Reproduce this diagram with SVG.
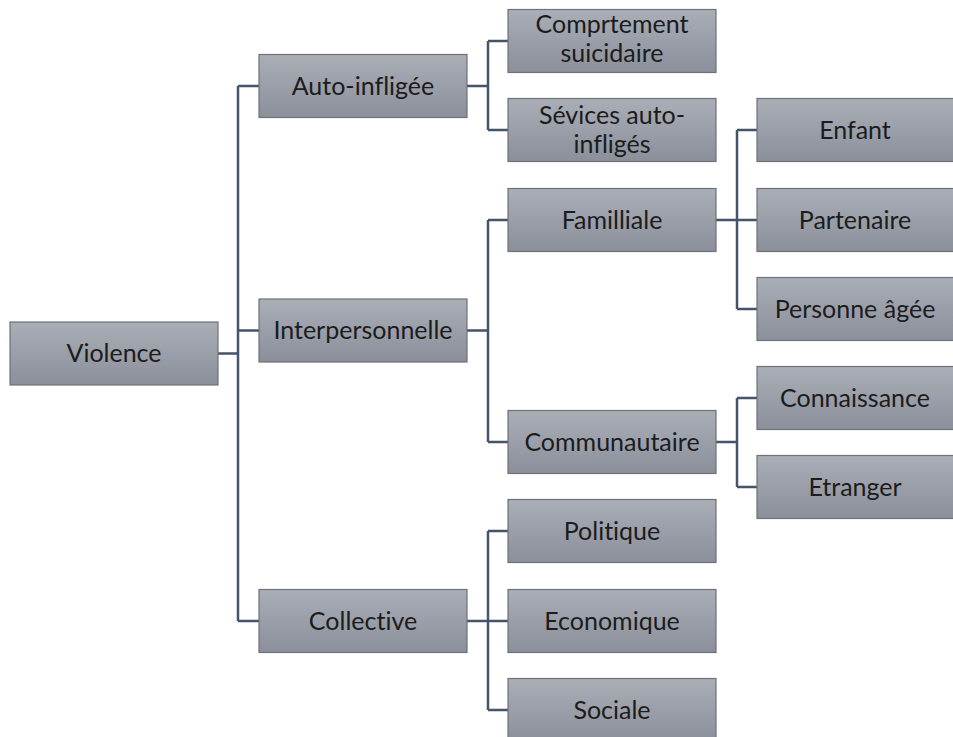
<svg xmlns="http://www.w3.org/2000/svg" width="953" height="737" viewBox="0 0 953 737">
<defs>
<linearGradient id="g" x1="0" y1="0" x2="0" y2="1">
<stop offset="0" stop-color="#aaaeb7"/>
<stop offset="1" stop-color="#8a8f9a"/>
</linearGradient>
</defs>
<style>
.b{fill:url(#g);stroke:#6d7179;stroke-width:1.2}
.t{font-family:Lato,"Liberation Sans",sans-serif;font-size:25px;fill:#1c1c1c;text-anchor:middle;font-variant-ligatures:none;font-feature-settings:"liga" 0}
.c{fill:none;stroke:#44546a;stroke-width:2.5}
</style>
<rect width="953" height="737" fill="#ffffff"/>
<g id="connectors" class="c">
<path d="M218 353.5H238M238 86V621M238 86H259M238 330.5H259M238 621H259"/>
<path d="M467 86H488M488 41V130M488 41H508M488 130H508"/>
<path d="M467 330.5H488M488 220V442M488 220H508M488 442H508"/>
<path d="M467 621H488M488 531V710M488 531H508M488 621H508M488 710H508"/>
<path d="M716 220H737M737 130V309M737 130H757M737 220H757M737 309H757"/>
<path d="M716 442H737M737 398V487M737 398H757M737 487H757"/>
</g>
<g id="n-violence"><rect class="b" x="10" y="322" width="208" height="63"/><text class="t" x="114" y="362">Violence</text></g>
<g id="n-auto"><rect class="b" x="259" y="54.5" width="208" height="63"/><text class="t" x="363" y="94.5">Auto-infligée</text></g>
<g id="n-inter"><rect class="b" x="259" y="299" width="208" height="63"/><text class="t" x="363" y="339">Interpersonnelle</text></g>
<g id="n-coll"><rect class="b" x="259" y="589.5" width="208" height="63"/><text class="t" x="363" y="629.5">Collective</text></g>
<g id="n-compr"><rect class="b" x="508" y="9.5" width="208" height="63"/><text class="t" x="612" y="33">Comprtement</text><text class="t" x="612" y="62">suicidaire</text></g>
<g id="n-sevices"><rect class="b" x="508" y="98.5" width="208" height="63"/><text class="t" x="612" y="124">Sévices auto-</text><text class="t" x="612" y="153">infligés</text></g>
<g id="n-fam"><rect class="b" x="508" y="188.5" width="208" height="63"/><text class="t" x="612" y="228.5">Familliale</text></g>
<g id="n-comm"><rect class="b" x="508" y="410.5" width="208" height="63"/><text class="t" x="612" y="450.5">Communautaire</text></g>
<g id="n-pol"><rect class="b" x="508" y="499.5" width="208" height="63"/><text class="t" x="612" y="539.5">Politique</text></g>
<g id="n-eco"><rect class="b" x="508" y="589.5" width="208" height="63"/><text class="t" x="612" y="629.5">Economique</text></g>
<g id="n-soc"><rect class="b" x="508" y="678.5" width="208" height="63"/><text class="t" x="612" y="718.5">Sociale</text></g>
<g id="n-enfant"><rect class="b" x="757" y="98.5" width="208" height="63"/><text class="t" x="855" y="138.5">Enfant</text></g>
<g id="n-part"><rect class="b" x="757" y="188.5" width="208" height="63"/><text class="t" x="855" y="228.5">Partenaire</text></g>
<g id="n-pers"><rect class="b" x="757" y="277.5" width="208" height="63"/><text class="t" x="855" y="317.5">Personne âgée</text></g>
<g id="n-conn"><rect class="b" x="757" y="366.5" width="208" height="63"/><text class="t" x="855" y="406.5">Connaissance</text></g>
<g id="n-etr"><rect class="b" x="757" y="455.5" width="208" height="63"/><text class="t" x="855" y="495.5">Etranger</text></g>
</svg>
